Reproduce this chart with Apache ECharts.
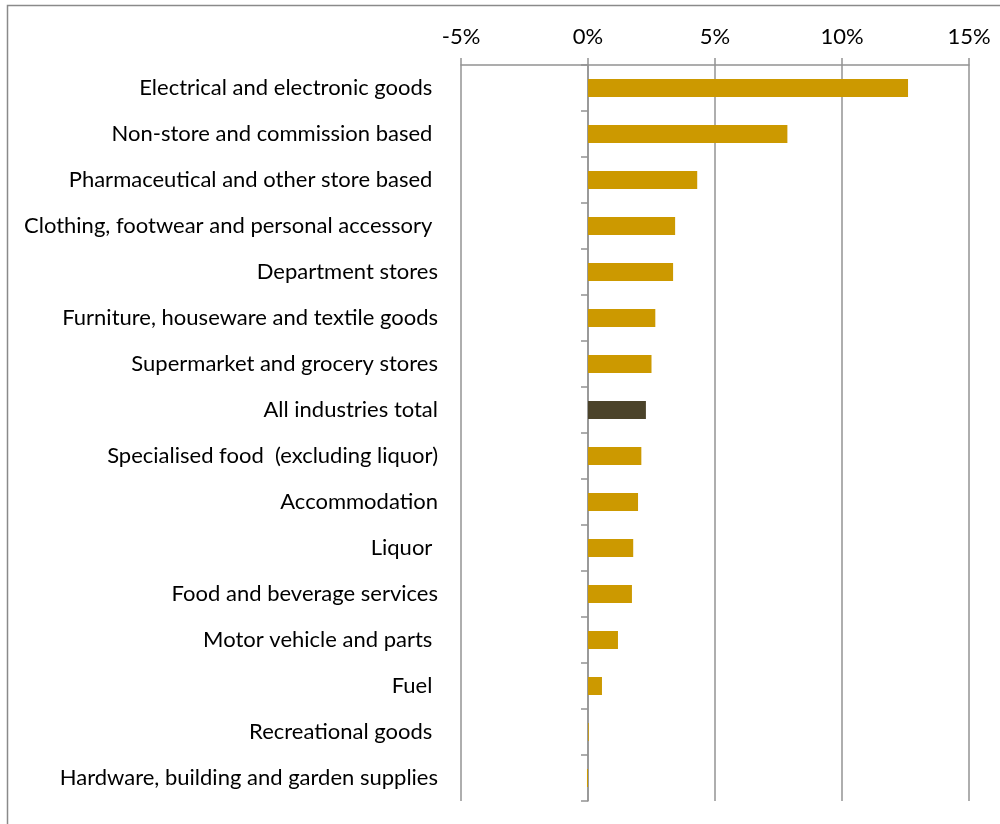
<!DOCTYPE html>
<html>
<head>
<meta charset="utf-8">
<style>
  html, body { margin: 0; padding: 0; background: #fff; }
  #chart { width: 1000px; height: 824px; }
</style>
<script src="https://cdn.jsdelivr.net/npm/echarts@6/dist/echarts.min.js"></script>
</head>
<body>
<div id="chart"></div>
<script>
// Industry names, top to bottom (some carry a trailing space in the source labels)
const categories = [
  'Electrical and electronic goods ',
  'Non-store and commission based ',
  'Pharmaceutical and other store based ',
  'Clothing, footwear and personal accessory ',
  'Department stores',
  'Furniture, houseware and textile goods',
  'Supermarket and grocery stores',
  'All industries total',
  'Specialised food  (excluding liquor)',
  'Accommodation',
  'Liquor ',
  'Food and beverage services',
  'Motor vehicle and parts ',
  'Fuel ',
  'Recreational goods ',
  'Hardware, building and garden supplies'
];

// Growth, percent
const growth = [12.6, 7.85, 4.3, 3.43, 3.35, 2.65, 2.5, 2.28, 2.1, 1.97, 1.78, 1.73, 1.18, 0.55, 0.03, -0.04];

const totalLabel = 'All industries total';
const xTicks = { min: -5, max: 15, interval: 5 };

const GOLD = '#cc9900';
const DARK = '#4b432a';
const LINE = '#939393';
const FONT = 'Lato';
const FONT_SIZE = 22;

const chart = echarts.init(document.getElementById('chart'), null, { renderer: 'canvas' });

chart.setOption({
  animation: false,
  backgroundColor: '#fff',
  grid: { left: 461, right: 31, top: 65, bottom: 23, containLabel: false },
  graphic: [{
    type: 'rect',
    shape: { x: 7.5, y: 5.5, width: 1010, height: 840 },
    style: { fill: 'none', stroke: '#8a8a8a', lineWidth: 1.5 },
    silent: true
  }],
  xAxis: {
    type: 'value',
    position: 'top',
    min: xTicks.min, max: xTicks.max, interval: xTicks.interval,
    axisLine: { show: true, onZero: false, lineStyle: { color: LINE, width: 1.5 } },
    axisTick: { show: true, inside: false, length: 7, lineStyle: { color: LINE, width: 1.5 } },
    splitLine: { show: true, lineStyle: { color: LINE, width: 1.5 } },
    axisLabel: {
      margin: 17,
      formatter: v => v + '%',
      fontFamily: FONT, fontSize: FONT_SIZE, color: '#000'
    }
  },
  yAxis: [{
    type: 'category',
    inverse: true,
    data: categories,
    position: 'left',
    axisLine: { show: false, onZero: false },
    axisTick: { show: false },
    axisLabel: { margin: 23, fontFamily: FONT, fontSize: FONT_SIZE, color: '#000' }
  }, {
    type: 'category',
    inverse: true,
    data: categories,
    position: 'left',
    axisLine: { show: true, onZero: true, lineStyle: { color: LINE, width: 1.5 } },
    axisTick: { show: true, length: 7, lineStyle: { color: LINE, width: 1.5 } },
    axisLabel: { show: false }
  }],
  series: [{
    type: 'bar',
    yAxisIndex: 0,
    barWidth: 18,
    data: growth.map((v, i) => ({
      value: v,
      itemStyle: { color: categories[i] === totalLabel ? DARK : GOLD }
    }))
  }]
});
</script>
</body>
</html>
